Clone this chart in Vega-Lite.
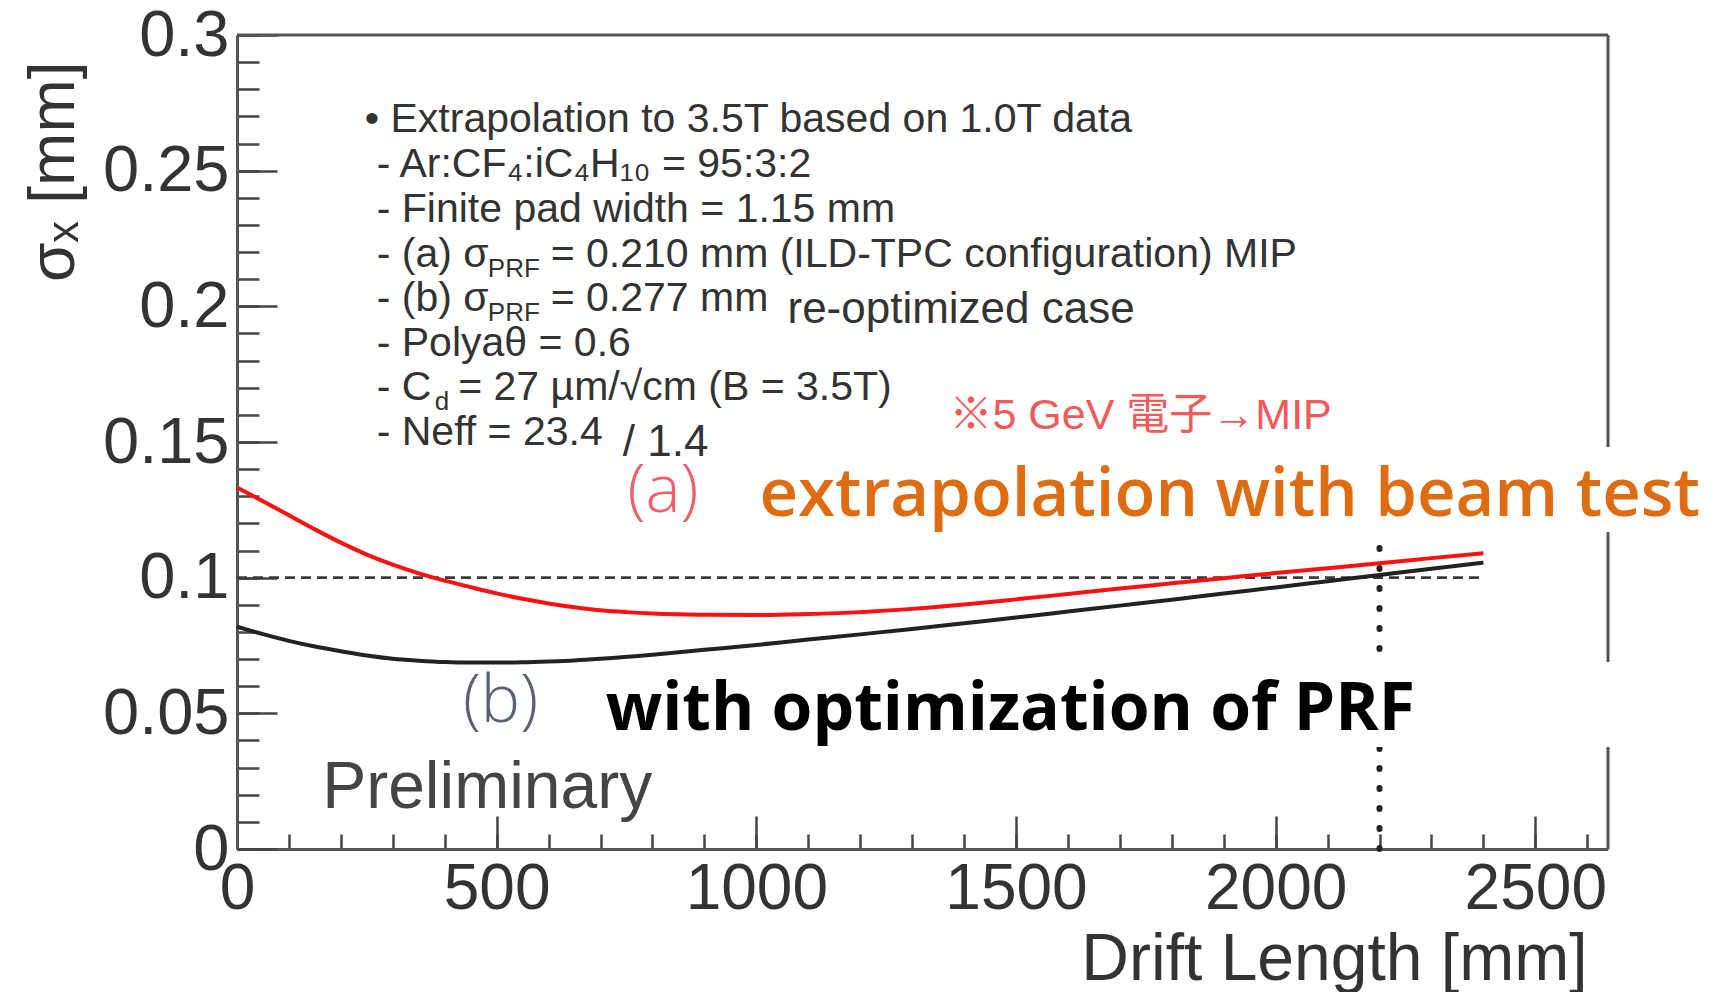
{
  "$schema": "https://vega.github.io/schema/vega-lite/v6.json",
  "width": 1371,
  "height": 814,
  "autosize": {"type": "none"},
  "padding": {"left": 237, "top": 35, "right": 120, "bottom": 143},
  "background": "white",
  "config": {
    "view": {"stroke": null},
    "axis": {"grid": false, "titleFontWeight": "normal"}
  },
  "resolve": {"axis": {"x": "independent", "y": "independent"}},
  "data": {"values": [{}]},
  "datasets": {
    "curves": [
      {"drift": 0, "sigma": 0.1332, "series": "a"},
      {"drift": 50, "sigma": 0.1282, "series": "a"},
      {"drift": 100, "sigma": 0.1230, "series": "a"},
      {"drift": 150, "sigma": 0.1178, "series": "a"},
      {"drift": 200, "sigma": 0.1129, "series": "a"},
      {"drift": 250, "sigma": 0.1085, "series": "a"},
      {"drift": 300, "sigma": 0.1048, "series": "a"},
      {"drift": 350, "sigma": 0.1016, "series": "a"},
      {"drift": 400, "sigma": 0.0989, "series": "a"},
      {"drift": 450, "sigma": 0.0965, "series": "a"},
      {"drift": 500, "sigma": 0.0942, "series": "a"},
      {"drift": 550, "sigma": 0.0922, "series": "a"},
      {"drift": 600, "sigma": 0.0905, "series": "a"},
      {"drift": 650, "sigma": 0.0891, "series": "a"},
      {"drift": 700, "sigma": 0.0880, "series": "a"},
      {"drift": 750, "sigma": 0.0873, "series": "a"},
      {"drift": 800, "sigma": 0.0868, "series": "a"},
      {"drift": 850, "sigma": 0.0865, "series": "a"},
      {"drift": 900, "sigma": 0.0863, "series": "a"},
      {"drift": 1000, "sigma": 0.0862, "series": "a"},
      {"drift": 1100, "sigma": 0.0866, "series": "a"},
      {"drift": 1200, "sigma": 0.0873, "series": "a"},
      {"drift": 1300, "sigma": 0.0885, "series": "a"},
      {"drift": 1400, "sigma": 0.0901, "series": "a"},
      {"drift": 1500, "sigma": 0.0920, "series": "a"},
      {"drift": 1600, "sigma": 0.0940, "series": "a"},
      {"drift": 1700, "sigma": 0.0960, "series": "a"},
      {"drift": 1800, "sigma": 0.0979, "series": "a"},
      {"drift": 1900, "sigma": 0.0998, "series": "a"},
      {"drift": 2000, "sigma": 0.1017, "series": "a"},
      {"drift": 2100, "sigma": 0.1035, "series": "a"},
      {"drift": 2200, "sigma": 0.1053, "series": "a"},
      {"drift": 2300, "sigma": 0.1072, "series": "a"},
      {"drift": 2400, "sigma": 0.1090, "series": "a"},
      {"drift": 0, "sigma": 0.0819, "series": "b"},
      {"drift": 50, "sigma": 0.0792, "series": "b"},
      {"drift": 100, "sigma": 0.0767, "series": "b"},
      {"drift": 150, "sigma": 0.0746, "series": "b"},
      {"drift": 200, "sigma": 0.0729, "series": "b"},
      {"drift": 250, "sigma": 0.0713, "series": "b"},
      {"drift": 300, "sigma": 0.0701, "series": "b"},
      {"drift": 350, "sigma": 0.0694, "series": "b"},
      {"drift": 400, "sigma": 0.0689, "series": "b"},
      {"drift": 450, "sigma": 0.0687, "series": "b"},
      {"drift": 500, "sigma": 0.0687, "series": "b"},
      {"drift": 550, "sigma": 0.0688, "series": "b"},
      {"drift": 600, "sigma": 0.0691, "series": "b"},
      {"drift": 650, "sigma": 0.0695, "series": "b"},
      {"drift": 700, "sigma": 0.0701, "series": "b"},
      {"drift": 800, "sigma": 0.0716, "series": "b"},
      {"drift": 900, "sigma": 0.0734, "series": "b"},
      {"drift": 1000, "sigma": 0.0752, "series": "b"},
      {"drift": 1100, "sigma": 0.0772, "series": "b"},
      {"drift": 1200, "sigma": 0.0791, "series": "b"},
      {"drift": 1300, "sigma": 0.0811, "series": "b"},
      {"drift": 1400, "sigma": 0.0832, "series": "b"},
      {"drift": 1500, "sigma": 0.0853, "series": "b"},
      {"drift": 1600, "sigma": 0.0875, "series": "b"},
      {"drift": 1700, "sigma": 0.0897, "series": "b"},
      {"drift": 1800, "sigma": 0.0919, "series": "b"},
      {"drift": 1900, "sigma": 0.0942, "series": "b"},
      {"drift": 2000, "sigma": 0.0964, "series": "b"},
      {"drift": 2100, "sigma": 0.0987, "series": "b"},
      {"drift": 2200, "sigma": 0.1010, "series": "b"},
      {"drift": 2300, "sigma": 0.1033, "series": "b"},
      {"drift": 2400, "sigma": 0.1055, "series": "b"}
    ]
  },
  "layer": [
    {
      "mark": {"type": "rule", "color": "#555555", "strokeWidth": 3},
      "encoding": {
        "y": {"datum": 0.3, "type": "quantitative", "scale": {"domain": [0, 0.3], "nice": false, "zero": false}, "axis": null}
      }
    },
    {
      "mark": {"type": "rule", "color": "#555555", "strokeWidth": 3},
      "encoding": {
        "x": {"datum": 2640, "type": "quantitative", "scale": {"domain": [0, 2640], "nice": false, "zero": false}, "axis": null}
      }
    },
    {
      "mark": {"type": "rule", "color": "#3a3a3a", "strokeWidth": 2.6, "strokeDash": [10, 6]},
      "encoding": {
        "x": {"datum": 0, "type": "quantitative", "scale": {"domain": [0, 2640], "nice": false, "zero": false},
          "axis": {"orient": "bottom", "values": [0,100,200,300,400,500,600,700,800,900,1000,1100,1200,1300,1400,1500,1600,1700,1800,1900,2000,2100,2200,2300,2400,2500,2600],
            "labels": false, "domain": false, "title": null, "tickSize": -15, "tickWidth": 2.5, "tickColor": "#444444"}},
        "x2": {"datum": 2400},
        "y": {"datum": 0.1, "type": "quantitative", "scale": {"domain": [0, 0.3], "nice": false, "zero": false},
          "axis": {"orient": "left", "values": [0,0.01,0.02,0.03,0.04,0.05,0.06,0.07,0.08,0.09,0.1,0.11,0.12,0.13,0.14,0.15,0.16,0.17,0.18,0.19,0.2,0.21,0.22,0.23,0.24,0.25,0.26,0.27,0.28,0.29,0.3],
            "labels": false, "domain": false, "title": null, "tickSize": -22, "tickWidth": 2.5, "tickColor": "#444444"}}
      }
    },
    {
      "mark": {"type": "rule", "color": "#222222", "strokeWidth": 6, "strokeCap": "round", "strokeDash": [1, 19]},
      "encoding": {
        "x": {"datum": 2200, "type": "quantitative", "scale": {"domain": [0, 2640], "nice": false, "zero": false}, "axis": null},
        "y": {"datum": 0, "type": "quantitative", "scale": {"domain": [0, 0.3], "nice": false, "zero": false}, "axis": null},
        "y2": {"datum": 0.111}
      }
    },
    {
      "data": {"name": "curves"},
      "mark": {"type": "line", "interpolate": "monotone", "strokeWidth": 4},
      "encoding": {
        "x": {"field": "drift", "type": "quantitative", "scale": {"domain": [0, 2640], "nice": false, "zero": false},
          "axis": {"orient": "bottom", "values": [0, 500, 1000, 1500, 2000, 2500], "format": "d", "labelFlush": false, "labelOverlap": false,
            "labelFont": "Liberation Sans", "labelFontSize": 64, "labelColor": "#333333", "labelPadding": 41,
            "tickSize": -33, "tickWidth": 2.5, "tickColor": "#444444", "domainColor": "#555555", "domainWidth": 3,
            "title": "Drift Length [mm]", "titleFont": "Liberation Sans", "titleFontSize": 66, "titleColor": "#333333",
            "titleAnchor": "end", "titleAlign": "right", "titleBaseline": "alphabetic", "titleX": 1350, "titleY": 130}},
        "y": {"field": "sigma", "type": "quantitative", "scale": {"domain": [0, 0.3], "nice": false, "zero": false},
          "axis": {"orient": "left", "values": [0, 0.05, 0.1, 0.15, 0.2, 0.25, 0.3], "format": "~g", "labelOverlap": false, "labelFlush": false,
            "labelFont": "Liberation Sans", "labelFontSize": 65, "labelColor": "#333333", "labelPadding": 48,
            "tickSize": -40, "tickWidth": 2.5, "tickColor": "#444444", "domainColor": "#555555", "domainWidth": 3,
            "title": "σₓ [mm]", "titleFont": "Liberation Sans, DejaVu Sans", "titleFontSize": 64, "titleColor": "#333333",
            "titleAngle": 270, "titleAlign": "right", "titleBaseline": "alphabetic", "titleX": -164, "titleY": 26}},
        "color": {"field": "series", "type": "nominal", "scale": {"domain": ["a", "b"], "range": ["#ff1010", "#222222"]}, "legend": null}
      }
    },
    {
      "mark": {"type": "rect", "fill": "white", "stroke": null},
      "encoding": {
        "x": {"datum": 1000, "type": "quantitative", "scale": {"domain": [0, 2640], "nice": false, "zero": false}, "axis": null},
        "x2": {"datum": 2880},
        "y": {"datum": 0.1168, "type": "quantitative", "scale": {"domain": [0, 0.3], "nice": false, "zero": false}, "axis": null},
        "y2": {"datum": 0.1482}
      }
    },
    {
      "mark": {"type": "rect", "fill": "white", "stroke": null},
      "encoding": {
        "x": {"datum": 1000, "type": "quantitative", "scale": {"domain": [0, 2640], "nice": false, "zero": false}, "axis": null},
        "x2": {"datum": 2880},
        "y": {"datum": 0.0376, "type": "quantitative", "scale": {"domain": [0, 0.3], "nice": false, "zero": false}, "axis": null},
        "y2": {"datum": 0.0689}
      }
    },
    {
      "data": {"values": [
        {"x": 246, "y": 0.2643, "text": "• Extrapolation to 3.5T based on 1.0T data"},
        {"x": 269, "y": 0.2477, "text": "- Ar:CF₄:iC₄H₁₀ = 95:3:2"},
        {"x": 269, "y": 0.2311, "text": "- Finite pad width = 1.15 mm"},
        {"x": 269, "y": 0.2145, "text": "- (a) σ"},
        {"x": 604, "y": 0.2145, "text": "= 0.210 mm (ILD-TPC configuration) MIP"},
        {"x": 269, "y": 0.1983, "text": "- (b) σ"},
        {"x": 604, "y": 0.1983, "text": "= 0.277 mm"},
        {"x": 269, "y": 0.1817, "text": "- Polyaθ = 0.6"},
        {"x": 269, "y": 0.1655, "text": "- C"},
        {"x": 426, "y": 0.1655, "text": "= 27 µm/√cm (B = 3.5T)"},
        {"x": 269, "y": 0.1489, "text": "- Neff = 23.4"}
      ]},
      "mark": {"type": "text", "align": "left", "baseline": "alphabetic", "font": "Liberation Sans, DejaVu Sans", "fontSize": 41, "color": "#333333"},
      "encoding": {
        "x": {"field": "x", "type": "quantitative", "scale": {"domain": [0, 2640], "nice": false, "zero": false}, "axis": null},
        "y": {"field": "y", "type": "quantitative", "scale": {"domain": [0, 0.3], "nice": false, "zero": false}, "axis": null},
        "text": {"field": "text"}
      }
    },
    {
      "data": {"values": [
        {"x": 483, "y": 0.2108, "text": "PRF"},
        {"x": 483, "y": 0.1946, "text": "PRF"},
        {"x": 381, "y": 0.1618, "text": "d"}
      ]},
      "mark": {"type": "text", "align": "left", "baseline": "alphabetic", "font": "Liberation Sans", "fontSize": 26, "color": "#333333"},
      "encoding": {
        "x": {"field": "x", "type": "quantitative", "scale": {"domain": [0, 2640], "nice": false, "zero": false}, "axis": null},
        "y": {"field": "y", "type": "quantitative", "scale": {"domain": [0, 0.3], "nice": false, "zero": false}, "axis": null},
        "text": {"field": "text"}
      }
    },
    {
      "data": {"values": [
        {"x": 1060, "y": 0.1939, "text": "re-optimized case"},
        {"x": 743, "y": 0.1448, "text": "/ 1.4"}
      ]},
      "mark": {"type": "text", "align": "left", "baseline": "alphabetic", "font": "Liberation Sans", "fontSize": 44, "color": "#333333"},
      "encoding": {
        "x": {"field": "x", "type": "quantitative", "scale": {"domain": [0, 2640], "nice": false, "zero": false}, "axis": null},
        "y": {"field": "y", "type": "quantitative", "scale": {"domain": [0, 0.3], "nice": false, "zero": false}, "axis": null},
        "text": {"field": "text"}
      }
    },
    {
      "data": {"values": [
        {"x": 1372, "y": 0.1548, "text": "※5 GeV 電子→MIP"}
      ]},
      "mark": {"type": "text", "align": "left", "baseline": "alphabetic", "font": "Liberation Sans, Noto Sans CJK JP", "fontSize": 43, "color": "#f25a5a"},
      "encoding": {
        "x": {"field": "x", "type": "quantitative", "scale": {"domain": [0, 2640], "nice": false, "zero": false}, "axis": null},
        "y": {"field": "y", "type": "quantitative", "scale": {"domain": [0, 0.3], "nice": false, "zero": false}, "axis": null},
        "text": {"field": "text"}
      }
    },
    {
      "data": {"values": [
        {"x": 752, "y": 0.1242, "text": "(a)"}
      ]},
      "mark": {"type": "text", "align": "left", "baseline": "alphabetic", "font": "Open Sans", "fontWeight": 300, "fontSize": 66, "color": "#f0606a"},
      "encoding": {
        "x": {"field": "x", "type": "quantitative", "scale": {"domain": [0, 2640], "nice": false, "zero": false}, "axis": null},
        "y": {"field": "y", "type": "quantitative", "scale": {"domain": [0, 0.3], "nice": false, "zero": false}, "axis": null},
        "text": {"field": "text"}
      }
    },
    {
      "data": {"values": [
        {"x": 435, "y": 0.0468, "text": "(b)"}
      ]},
      "mark": {"type": "text", "align": "left", "baseline": "alphabetic", "font": "Open Sans", "fontWeight": 300, "fontSize": 66, "color": "#5b6270"},
      "encoding": {
        "x": {"field": "x", "type": "quantitative", "scale": {"domain": [0, 2640], "nice": false, "zero": false}, "axis": null},
        "y": {"field": "y", "type": "quantitative", "scale": {"domain": [0, 0.3], "nice": false, "zero": false}, "axis": null},
        "text": {"field": "text"}
      }
    },
    {
      "data": {"values": [
        {"x": 1006, "y": 0.1227, "text": "extrapolation with beam test"}
      ]},
      "mark": {"type": "text", "align": "left", "baseline": "alphabetic", "font": "Open Sans", "fontWeight": 600, "fontSize": 67, "color": "#e06c12"},
      "encoding": {
        "x": {"field": "x", "type": "quantitative", "scale": {"domain": [0, 2640], "nice": false, "zero": false}, "axis": null},
        "y": {"field": "y", "type": "quantitative", "scale": {"domain": [0, 0.3], "nice": false, "zero": false}, "axis": null},
        "text": {"field": "text"}
      }
    },
    {
      "data": {"values": [
        {"x": 710, "y": 0.0440, "text": "with optimization of PRF"}
      ]},
      "mark": {"type": "text", "align": "left", "baseline": "alphabetic", "font": "Open Sans", "fontWeight": 700, "fontSize": 66, "color": "#000000"},
      "encoding": {
        "x": {"field": "x", "type": "quantitative", "scale": {"domain": [0, 2640], "nice": false, "zero": false}, "axis": null},
        "y": {"field": "y", "type": "quantitative", "scale": {"domain": [0, 0.3], "nice": false, "zero": false}, "axis": null},
        "text": {"field": "text"}
      }
    },
    {
      "data": {"values": [
        {"x": 164, "y": 0.0151, "text": "Preliminary"}
      ]},
      "mark": {"type": "text", "align": "left", "baseline": "alphabetic", "font": "Liberation Sans", "fontSize": 66, "color": "#444444"},
      "encoding": {
        "x": {"field": "x", "type": "quantitative", "scale": {"domain": [0, 2640], "nice": false, "zero": false}, "axis": null},
        "y": {"field": "y", "type": "quantitative", "scale": {"domain": [0, 0.3], "nice": false, "zero": false}, "axis": null},
        "text": {"field": "text"}
      }
    }
  ]
}
